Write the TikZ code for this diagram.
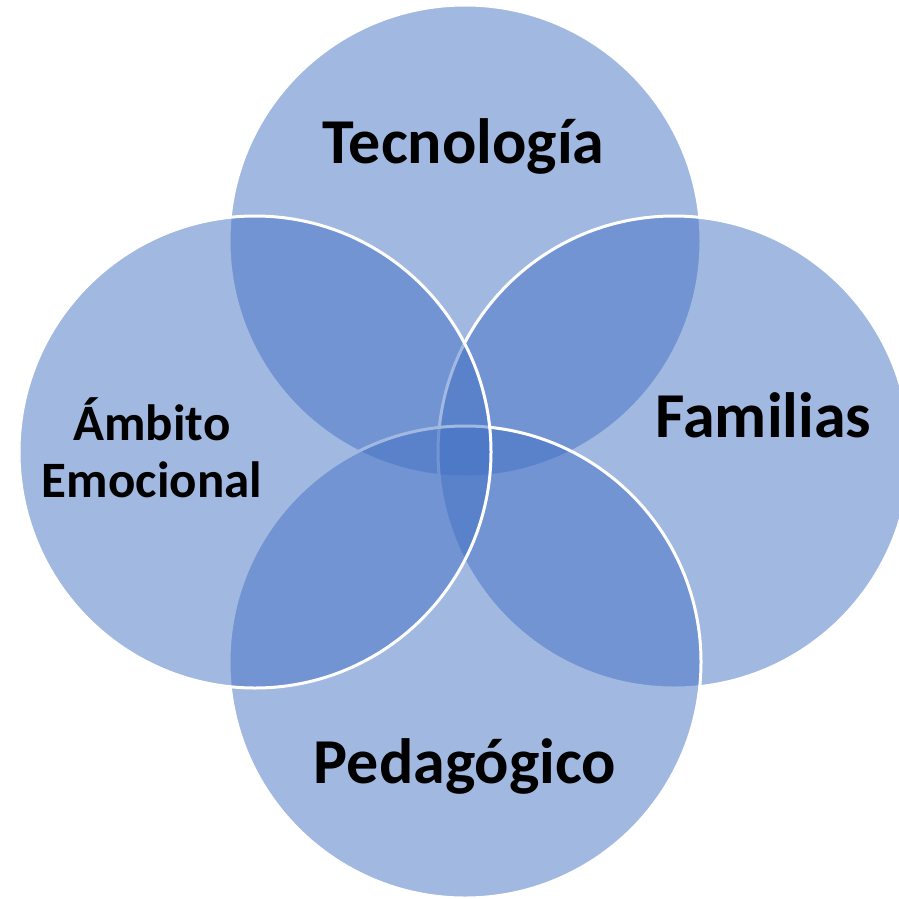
\documentclass[tikz,border=0pt]{standalone}
\usepackage{fontspec}
\setmainfont{Carlito}
\definecolor{vennblue}{HTML}{4472C4}
\begin{document}
\begin{tikzpicture}[x=1pt,y=-1pt,
  venn/.style={fill=vennblue,fill opacity=0.5,draw=white,draw opacity=1,line width=3pt},
  lbl/.style={font=\bfseries\fontsize{64}{70}\selectfont,text=black,inner sep=0pt,anchor=base},
  lblsmall/.style={font=\bfseries\fontsize{51}{57}\selectfont,text=black,inner sep=0pt,align=center,anchor=base}]
\useasboundingbox (0,0) rectangle (898,899);
\fill[white] (0,0) rectangle (898,899);
\coordinate (ct) at (465,241);
\coordinate (cr) at (674,452);
\coordinate (cb) at (465,662);
\coordinate (cl) at (255,452);
\draw[venn] (ct) circle[radius=236];
\draw[venn] (cr) circle[radius=236];
\draw[venn] (cb) circle[radius=236];
\draw[venn] (cl) circle[radius=236];
\node[lbl] (tec) at (463.5,163) {Tecnología};
\node[lbl] (fam) at (763.5,437) {Familias};
\node[lbl] (ped) at (465,783) {Pedagógico};
\node[lblsmall] (amb) at (152,497) {Ámbito\\Emocional};
\end{tikzpicture}
\end{document}
